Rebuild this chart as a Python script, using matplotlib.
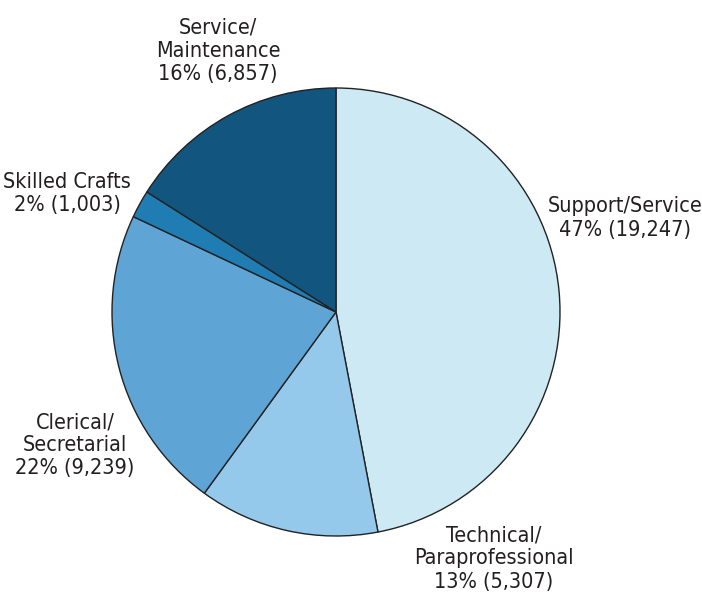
import matplotlib
matplotlib.use('Agg')
import matplotlib.pyplot as plt
from matplotlib import font_manager

names = {f.name for f in font_manager.fontManager.ttflist}
if 'Liberation Sans Narrow' in names:
    plt.rcParams['font.family'] = ['Liberation Sans Narrow', 'DejaVu Sans']
else:
    plt.rcParams['font.family'] = ['DejaVu Sans']
    plt.rcParams['font.stretch'] = 'condensed'

categories = ['Support/Service', 'Technical/\nParaprofessional', 'Clerical/\nSecretarial',
              'Skilled Crafts', 'Service/\nMaintenance']
counts = [19247, 5307, 9239, 1003, 6857]
percents = [47, 13, 22, 2, 16]
colors = ['#cce9f4', '#94c9ec', '#5ea4d4', '#1f7db3', '#12557f']

# label centres (data units, pie radius = 1)
label_pos = [(1.29, 0.42), (0.705, -1.10), (-1.165, -0.595), (-1.20, 0.53), (-0.527, 1.165)]

fig = plt.figure(figsize=(7.02, 5.95), dpi=100)
ax = fig.add_axes([(336 - 224) / 702, (595 - 312 - 224) / 595, 448 / 702, 448 / 595])
# wedges follow the rounded percentages, as in the original figure
ax.pie(percents, colors=colors, startangle=90, counterclock=False, radius=1,
       wedgeprops={'edgecolor': '#222222', 'linewidth': 1.0})
ax.set_xlim(-1, 1)
ax.set_ylim(-1, 1)
ax.set_aspect('equal')
ax.axis('off')

for name, pct, n, (x, y) in zip(categories, percents, counts, label_pos):
    ax.text(x, y, f'{name}\n{pct}% ({n:,})', ha='center', va='center',
            fontsize=15.5, color='#231f20', linespacing=1.2, clip_on=False)

fig.savefig('out.png', dpi=100)
